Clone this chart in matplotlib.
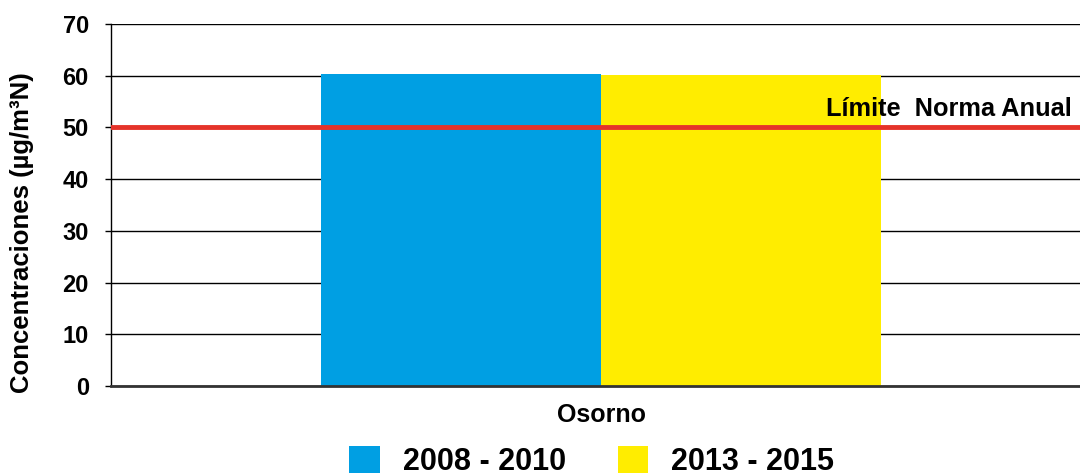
import matplotlib
matplotlib.use("Agg")
import matplotlib.pyplot as plt
from matplotlib.patches import Patch

categories = ["Osorno"]
series_names = ["2008 - 2010", "2013 - 2015"]
values_2008_2010 = [60.3]
values_2013_2015 = [60.1]
limit_value = 50
limit_label = "Límite  Norma Anual"
y_ticks = [0, 10, 20, 30, 40, 50, 60, 70]
ylabel = "Concentraciones (µg/m³N)"
colors = ["#009FE3", "#FFED00"]

plt.rcParams['font.family'] = ['Liberation Sans', 'DejaVu Sans']
plt.rcParams['font.weight'] = 'bold'

fig = plt.figure(figsize=(10.8, 4.75), dpi=100)
ax = fig.add_axes([0.1028, 0.1874, 0.9074, 0.7621])

w = 0.2857
x0 = 0
ax.bar(x0 - w / 2, values_2008_2010[0], width=w, color=colors[0], zorder=2)
ax.bar(x0 + w / 2, values_2013_2015[0], width=w, color=colors[1], zorder=2)

ax.axhline(limit_value, color="#E5332A", lw=3.5, zorder=3)
ax.text(0.48, limit_value + 1.2, limit_label, ha="right", va="bottom",
        fontsize=18.3, fontweight="bold", zorder=4)

ax.set_xlim(-0.5, 0.5)
ax.set_ylim(0, 70)
ax.set_yticks(y_ticks)
ax.set_yticklabels([str(t) for t in y_ticks], fontsize=17, fontweight="bold")
ax.set_xticks([x0])
ax.set_xticklabels(categories, fontsize=18, fontweight="bold")
ax.tick_params(axis="x", length=0, pad=12)
ax.tick_params(axis="y", length=4, width=1, direction="out", pad=12)
ax.yaxis.grid(True, color="black", lw=1)
ax.set_axisbelow(True)
for s in ["top", "right"]:
    ax.spines[s].set_visible(False)
ax.spines["bottom"].set_linewidth(2)
ax.spines["bottom"].set_color("#333333")
ax.spines["bottom"].set_zorder(5)
ax.spines["left"].set_linewidth(1)
ax.set_ylabel(ylabel, fontsize=18.5, fontweight="bold")
ax.yaxis.set_label_coords(-0.079, 0.425)

handles = [Patch(facecolor=c, edgecolor="none") for c in colors]
fig.legend(handles, series_names, loc="center", bbox_to_anchor=(0.548, 0.029),
           ncol=2, frameon=False, prop={"size": 22, "weight": "bold"},
           handlelength=1.0, handleheight=1.0, handletextpad=0.75,
           columnspacing=1.7)

fig.savefig("out.png", dpi=100)
